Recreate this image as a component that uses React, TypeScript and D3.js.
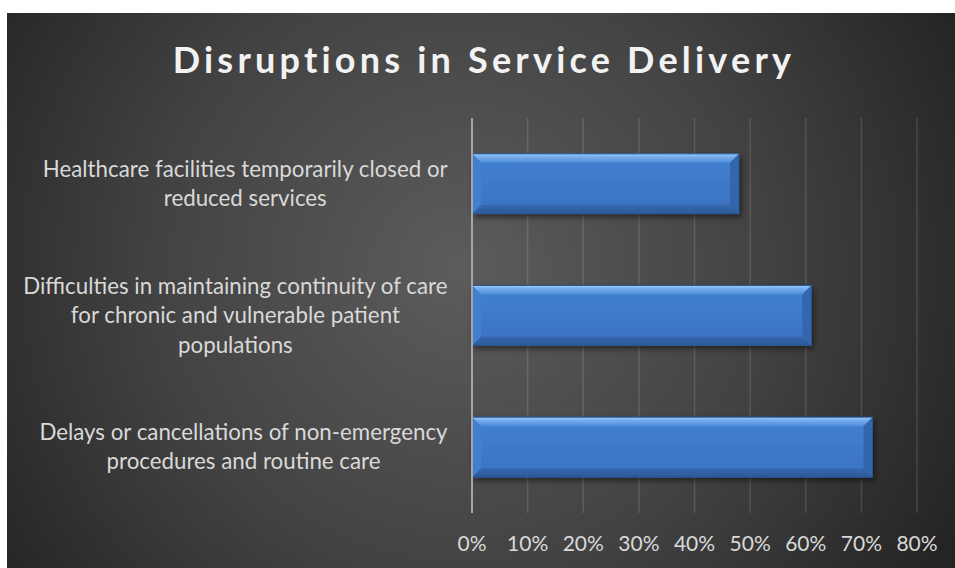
import React from 'react';
import * as d3 from 'd3';

// ---- data (display order, top to bottom) ----
const categories = [
  'Healthcare facilities temporarily closed or reduced services',
  'Difficulties in maintaining continuity of care for chronic and vulnerable patient populations',
  'Delays or cancellations of non-emergency procedures and routine care',
];
const labelLines = [
  ['Healthcare facilities temporarily closed or', 'reduced services'],
  ['Difficulties in maintaining continuity of care', 'for chronic and vulnerable patient', 'populations'],
  ['Delays or cancellations of non-emergency', 'procedures and routine care'],
];
const values = [0.48, 0.61, 0.72];
const tickValues = [0, 0.1, 0.2, 0.3, 0.4, 0.5, 0.6, 0.7, 0.8];
const title = 'Disruptions in Service Delivery';

const W = 955;
const H = 568;
const FONT = 'Lato, "Open Sans", sans-serif';
const LABEL_SIZE = 22.3;
const TICK_SIZE = 21;

let ctx: CanvasRenderingContext2D | null = null;
function measure(text: string, font: string): number {
  if (!ctx) ctx = document.createElement('canvas').getContext('2d');
  if (!ctx) return text.length * 9;
  ctx.font = font;
  return ctx.measureText(text).width;
}

export default function App() {
  const x = d3.scaleLinear().domain([0, 0.8]).range([472, 917]);
  const y = d3
    .scaleBand<string>()
    .domain(categories)
    .range([118, 513])
    .paddingInner(0.544)
    .paddingOuter(0.272);

  const labelRight = 448;
  const lineH = 29.5;
  const b = 9;

  return (
    <div style={{ position: 'fixed', left: 0, top: 0, width: W, height: H, background: '#fff' }}>
      <svg width={W} height={H} style={{ display: 'block' }}>
        <defs>
          <radialGradient id="bg" gradientUnits="userSpaceOnUse" cx={460} cy={270} r={560}>
            <stop offset="0" stopColor="#5c5c5c" />
            <stop offset="0.55" stopColor="#424242" />
            <stop offset="1" stopColor="#242424" />
          </radialGradient>
          <linearGradient id="barMain" x1="0" y1="0" x2="0" y2="1">
            <stop offset="0" stopColor="#4281d2" />
            <stop offset="1" stopColor="#3a72c0" />
          </linearGradient>
          <linearGradient id="barTop" x1="0" y1="0" x2="0" y2="1">
            <stop offset="0" stopColor="#9acbfa" />
            <stop offset="0.35" stopColor="#76adec" />
            <stop offset="1" stopColor="#4f8bd8" />
          </linearGradient>
          <linearGradient id="barBottom" x1="0" y1="0" x2="0" y2="1">
            <stop offset="0" stopColor="#3668b0" />
            <stop offset="1" stopColor="#2b5999" />
          </linearGradient>
          <filter id="shadow" x="-10%" y="-30%" width="120%" height="170%">
            <feDropShadow dx="2" dy="3" stdDeviation="3" floodColor="#000" floodOpacity="0.55" />
          </filter>
        </defs>

        <rect x={7} y={13} width={W - 7} height={H - 13} fill="url(#bg)" />

        <text
          x={484}
          y={73}
          textAnchor="middle"
          fill="#f2f2f2"
          fontFamily={FONT}
          fontWeight={700}
          fontSize={36}
          letterSpacing={4.2}
        >
          {title}
        </text>

        {/* gridlines */}
        {tickValues.slice(1).map((t) => (
          <line
            key={t}
            x1={x(t)}
            x2={x(t)}
            y1={118}
            y2={513}
            stroke="#ffffff"
            strokeOpacity={0.13}
            strokeWidth={1.5}
          />
        ))}

        {/* bars */}
        {categories.map((c, i) => {
          const x0 = x(0);
          const x1 = x(values[i]);
          const y0 = y(c) as number;
          const y1 = y0 + y.bandwidth();
          return (
            <g key={c}>
              <rect x={x0} y={y0} width={x1 - x0} height={y1 - y0} fill="url(#barMain)" filter="url(#shadow)" />
              <polygon
                points={`${x0},${y0} ${x1},${y0} ${x1 - b},${y0 + b} ${x0 + b},${y0 + b}`}
                fill="url(#barTop)"
              />
              <polygon
                points={`${x0},${y1} ${x1},${y1} ${x1 - b},${y1 - b} ${x0 + b},${y1 - b}`}
                fill="url(#barBottom)"
              />
              <polygon
                points={`${x0},${y0} ${x0 + b},${y0 + b} ${x0 + b},${y1 - b} ${x0},${y1}`}
                fill="#427fce"
              />
              <polygon
                points={`${x1},${y0} ${x1 - b},${y0 + b} ${x1 - b},${y1 - b} ${x1},${y1}`}
                fill="#3466ae"
              />
              <rect
                x={x0}
                y={y0}
                width={x1 - x0}
                height={y1 - y0}
                fill="none"
                stroke="#2c5592"
                strokeWidth={1}
              />
            </g>
          );
        })}

        {/* axis line */}
        <line x1={x(0)} x2={x(0)} y1={118} y2={513} stroke="#a6a6a6" strokeWidth={2} />

        {/* tick labels */}
        {tickValues.map((t) => (
          <text
            key={t}
            x={x(t)}
            y={551}
            textAnchor="middle"
            fill="#d9d9d9"
            fontFamily={FONT}
            fontSize={TICK_SIZE}
          >
            {d3.format('.0%')(t)}
          </text>
        ))}

        {/* category labels */}
        {categories.map((c, i) => {
          const lines = labelLines[i];
          const font = `${LABEL_SIZE}px ${FONT}`;
          const maxW = Math.max(...lines.map((l) => measure(l, font)));
          const cx = labelRight - maxW / 2;
          const center = (y(c) as number) + y.bandwidth() / 2;
          const first = center - ((lines.length - 1) / 2) * lineH + 7.5;
          return (
            <text
              key={c}
              textAnchor="middle"
              fill="#d9d9d9"
              fontFamily={FONT}
              fontSize={LABEL_SIZE}
            >
              {lines.map((l, j) => (
                <tspan key={j} x={cx} y={first + j * lineH}>
                  {l}
                </tspan>
              ))}
            </text>
          );
        })}
      </svg>
    </div>
  );
}
